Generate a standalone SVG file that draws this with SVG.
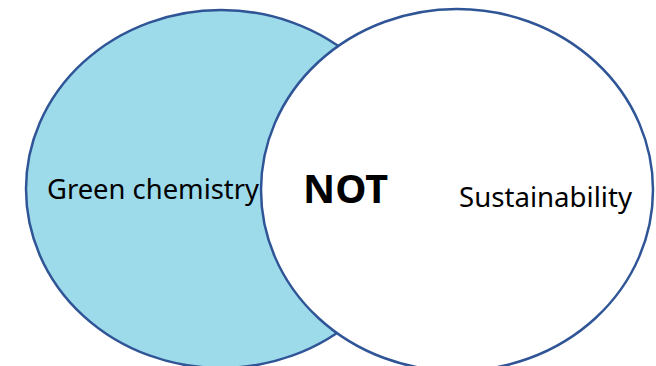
<svg xmlns="http://www.w3.org/2000/svg" width="656" height="366" viewBox="0 0 656 366">
<style>
.set{stroke:#2F5597;stroke-width:2.5}
.lbl{font-family:"Noto Sans","Open Sans",sans-serif;font-size:27px;fill:#000}
.bold{font-family:"Noto Sans","Open Sans",sans-serif;font-size:39px;font-weight:bold;fill:#000}
</style>
<rect width="656" height="366" fill="#fff"/>
<g id="green-chemistry">
<ellipse class="set" cx="221" cy="189" rx="195" ry="179" fill="#9DDAEA"/>
</g>
<g id="sustainability">
<ellipse class="set" cx="457" cy="190" rx="196" ry="181" fill="#fff"/>
</g>
<g id="labels">
<text class="lbl" x="47" y="199" textLength="212" lengthAdjust="spacingAndGlyphs">Green chemistry</text>
<text class="bold" x="303" y="203" textLength="85" lengthAdjust="spacingAndGlyphs">NOT</text>
<text class="lbl" x="459" y="207" textLength="173" lengthAdjust="spacingAndGlyphs">Sustainability</text>
</g>
</svg>
